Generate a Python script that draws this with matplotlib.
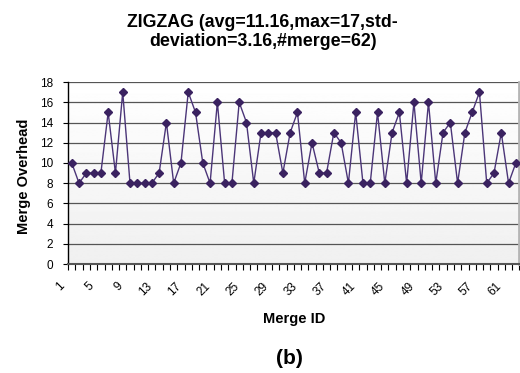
import numpy as np
import matplotlib
matplotlib.use("Agg")
import matplotlib.pyplot as plt
from matplotlib.ticker import FixedLocator
from matplotlib.transforms import ScaledTranslation

plt.rcParams['font.family'] = ['Liberation Sans', 'DejaVu Sans']

# merge overhead per merge id
merge_ids = list(range(1, 63))
overhead = [10, 8, 9, 9, 9, 15, 9, 17, 8, 8,
            8, 8, 9, 14, 8, 10, 17, 15, 10, 8,
            16, 8, 8, 16, 14, 8, 13, 13, 13, 9,
            13, 15, 8, 12, 9, 9, 13, 12, 8, 15,
            8, 8, 15, 8, 13, 15, 8, 16, 8, 16,
            8, 13, 14, 8, 13, 15, 17, 8, 9, 13,
            8, 10]
label_ids = merge_ids[::4]
title = "ZIGZAG (avg=11.16,max=17,std-\ndeviation=3.16,#merge=62)"

fig = plt.figure(figsize=(5.2, 3.73), dpi=100)
ax = fig.add_axes([0.131, 0.292, 0.868, 0.488])

n = len(merge_ids)
ax.set_xlim(0.5, n + 0.5)
ax.set_ylim(0, 18)

# light gradient plot background
grad = np.linspace(0.94, 1.0, 256).reshape(-1, 1)
ax.imshow(grad, extent=[0.5, n + 0.5, 0, 18], aspect='auto', cmap='gray',
          vmin=0, vmax=1, origin='lower', zorder=0)

ax.plot(merge_ids, overhead, color='#4b3578', lw=1.0, marker='D',
        markersize=4.2, markerfacecolor='#3a2260', markeredgecolor='#3a2260',
        zorder=3)

ax.set_yticks(range(0, 19, 2))
ax.yaxis.grid(True, color='#555555', lw=0.9)
for g in ax.get_ygridlines():
    g.set_zorder(1)

# category boundaries as ticks, labels every 4th category
ax.xaxis.set_major_locator(FixedLocator(label_ids))
ax.xaxis.set_minor_locator(FixedLocator(np.arange(0.5, n + 1, 1.0)))
ax.tick_params(axis='x', which='major', length=0, pad=0, labelsize=8.5)
ax.tick_params(axis='x', which='minor', length=4, width=0.8, direction='out')
ax.tick_params(axis='y', length=3.6, width=0.8, labelsize=8.5, pad=7)
ax.set_xticklabels([str(i) for i in label_ids], rotation=45, ha='right',
                   va='top', rotation_mode='anchor')
shift = ScaledTranslation(-0.13, -0.16, fig.dpi_scale_trans)
for lab in ax.get_xticklabels():
    lab.set_transform(lab.get_transform() + shift)

ax.spines['top'].set_visible(False)
ax.spines['right'].set_color('#b5b5b5')
ax.spines['right'].set_linewidth(2)
ax.spines['left'].set_linewidth(1)
ax.spines['bottom'].set_color('#555555')
ax.spines['bottom'].set_linewidth(1.5)

ax.set_xlabel("Merge ID", fontsize=10.5, fontweight='bold')
ax.xaxis.set_label_coords(0.5, -0.265)
ax.set_ylabel("Merge Overhead", fontsize=10.5, fontweight='bold')
ax.yaxis.set_label_coords(-0.082, 0.48)

fig.text(0.505, 0.962, title, ha='center', va='top', fontsize=12.8,
         fontweight='bold', linespacing=1.12)
fig.text(0.556, 0.04, "(b)", ha='center', va='center', fontsize=15,
         fontweight='bold')

fig.savefig("out.png", dpi=100)
